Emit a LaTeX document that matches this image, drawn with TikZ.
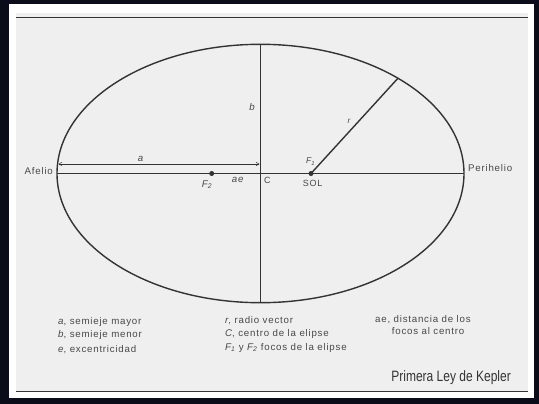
\documentclass[tikz,border=0pt]{standalone}
\usepackage{graphicx}
\usepackage{fontspec}
\setmainfont{Liberation Sans}
\newfontfamily\labfont[LetterSpace=8]{Liberation Sans}
\newfontfamily\ttlfont{Liberation Sans}
\usetikzlibrary{arrows.meta}
\definecolor{bgdark}{HTML}{0A0C1A}
\definecolor{panel}{HTML}{EFEFEF}
\definecolor{ink}{HTML}{333333}
\definecolor{txt}{HTML}{484848}
\begin{document}
\begin{tikzpicture}[x=1pt,y=-1pt,
  lbl/.style={inner sep=0pt, text=txt, font=\labfont\fontsize{9.7}{11}\selectfont},
  leg/.style={lbl, anchor=base west},
  axisline/.style={draw=ink, line width=0.9pt},
  orbit/.style={draw=ink, line width=1.4pt},
  rule/.style={draw=ink, line width=1.4pt},
  dotf/.style={circle, fill=ink, inner sep=0pt, minimum size=5pt}]
\useasboundingbox (0,0) rectangle (539,404);
\fill[bgdark] (0,0) rectangle (539,404);
\fill[white] (9,4) rectangle (534,398);
\fill[panel] (16,13) rectangle (528,391);
\draw[rule] (16,17.7) -- (528,17.7);
\draw[rule] (16,391.7) -- (528,391.7);
% geometry
\coordinate (C) at (260.5,173.5);
\coordinate (A) at (57,173.5);
\coordinate (P) at (464,173.5);
\coordinate (T) at (260.5,44.3);
\coordinate (B) at (260.5,302.7);
\coordinate (R) at (398.0,78.2);
\coordinate (aL) at (58.5,164);
\coordinate (aR) at (259.5,164);
\draw[orbit] (C) ellipse [x radius=203.5, y radius=129.2];
\draw[axisline] (A) -- (P);
\draw[axisline] (T) -- (B);
\draw[draw=ink, line width=0.5pt, {Straight Barb[length=3pt,width=3.5pt]}-{Straight Barb[length=3pt,width=3.5pt]}] (aL) -- (aR);
\node[dotf] (F2) at (211.7,173.5) {};
\node[dotf] (S) at (311,173.5) {};
\draw[draw=ink, line width=1.4pt] (S.center) -- (R);
% diagram labels
\node[leg] (afelio) at (24.5,175) {Afelio};
\node[leg] (perihelio) at (468,171.7) {Perihelio};
\node[lbl, anchor=base] (la) at (140.5,161.7) {\itshape a};
\node[lbl, anchor=base] (lb) at (252,110.7) {\itshape b};
\node[lbl, anchor=base, font=\labfont\fontsize{8}{9}\selectfont] (lr) at (349,124) {\itshape r};
\node[leg, font=\labfont\fontsize{8.5}{10}\selectfont] (lf1) at (306,164) {\itshape F\textsubscript{1}};
\node[leg, font=\labfont\fontsize{9}{10}\selectfont] (sol) at (302.7,186) {SOL};
\node[leg, font=\labfont\fontsize{9}{10}\selectfont] (lc) at (264,183.3) {C};
\node[leg] (lae) at (231.7,182.7) {\itshape ae};
\node[leg] (lf2) at (201.7,187) {\itshape F\textsubscript{2}};
% legend
\node[leg] (g1) at (58,324) {{\itshape a}, semieje mayor};
\node[leg] (g2) at (58,337.5) {{\itshape b}, semieje menor};
\node[leg] (g3) at (58,352) {{\itshape e}, excentricidad};
\node[leg] (g4) at (225,323) {{\itshape r}, radio vector};
\node[leg] (g5) at (225,336.5) {{\itshape C}, centro de la elipse};
\node[leg] (g6) at (225,350) {{\itshape F\textsubscript{1}} y {\itshape F\textsubscript{2}} focos de la elipse};
\node[leg] (g7) at (375,322.5) {ae, distancia de los};
\node[leg] (g8) at (391.7,334.5) {focos al centro};
\node[inner sep=0pt, anchor=base east, text=ink, font=\ttlfont\fontsize{15}{17}\selectfont] (title) at (511,381.7) {\scalebox{0.8}[1]{Primera Ley de Kepler}};
\end{tikzpicture}
\end{document}
